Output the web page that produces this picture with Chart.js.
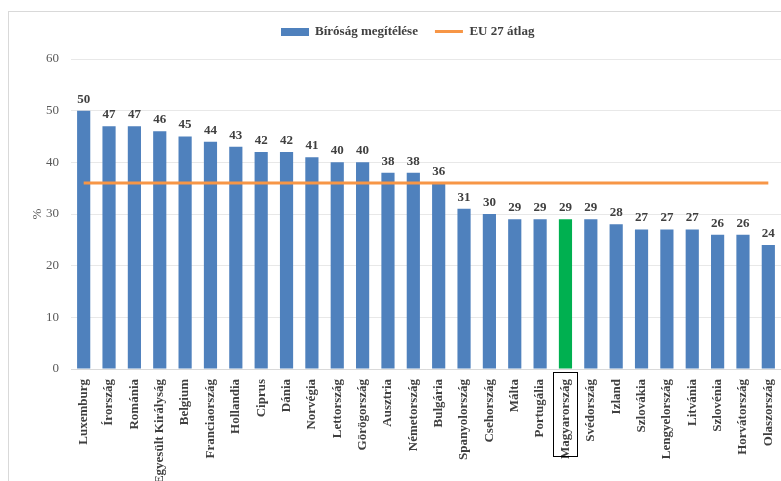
<!DOCTYPE html>
<html lang="hu">
<head>
    <meta charset="UTF-8">
    <title>Bíróság megítélése</title>
    <script src="https://cdn.jsdelivr.net/npm/chart.js"></script>
    <style>
        html, body { margin: 0; padding: 0; background: #fff; }
        .wrap { width: 781px; height: 481px; position: relative; }
    </style>
</head>
<body>
<div class="wrap">
    <canvas id="chart" width="781" height="481"></canvas>
</div>
<script>
// adatok
const orszagok = ['Luxemburg', 'Írország', 'Románia', 'Egyesült Királyság', 'Belgium', 'Franciaország',
    'Hollandia', 'Ciprus', 'Dánia', 'Norvégia', 'Lettország', 'Görögország', 'Ausztria', 'Németország',
    'Bulgária', 'Spanyolország', 'Csehország', 'Málta', 'Portugália', 'Magyarország', 'Svédország',
    'Izland', 'Szlovákia', 'Lengyelország', 'Litvánia', 'Szlovénia', 'Horvátország', 'Olaszország'];
const ertekek = [50, 47, 47, 46, 45, 44, 43, 42, 42, 41, 40, 40, 38, 38, 36, 31, 30, 29, 29, 29, 29, 28, 27, 27, 27, 26, 26, 24];
const euAtlag = 36;
const kiemelt = 'Magyarország';
const yTicks = [0, 10, 20, 30, 40, 50, 60];

const serif = "'Liberation Serif', 'DejaVu Serif', serif";
const kek = '#4f81bd';
const zold = '#00b050';
const narancs = '#f79646';

// jelmagyarázat ikon a sávokhoz
const boxIcon = document.createElement('canvas');
boxIcon.width = 28; boxIcon.height = 8;
const bctx = boxIcon.getContext('2d');
bctx.fillStyle = kek;
bctx.fillRect(0, 0, 28, 8);

// a jelmagyarázat alatt több hely kell, és kicsit jobbra van
const legendHely = {
    id: 'legendHely',
    beforeInit(chart) {
        const fit = chart.legend.fit;
        chart.legend.fit = function () {
            fit.bind(chart.legend)();
            this.height += 11;
        };
    },
    afterLayout(chart) {
        chart.legend.left += 34;
    }
};

// értékek a sávok fölött + keret a kiemelt ország körül
const cimkek = {
    id: 'cimkek',
    afterDatasetsDraw(chart) {
        const ctx = chart.ctx;
        const meta = chart.getDatasetMeta(0);
        ctx.save();
        ctx.font = 'bold 13px ' + serif;
        ctx.fillStyle = '#404040';
        ctx.textAlign = 'center';
        ctx.textBaseline = 'bottom';
        meta.data.forEach((bar, i) => {
            ctx.fillText(ertekek[i], bar.x, bar.y - 5);
        });
        ctx.restore();
    },
    afterDraw(chart) {
        const ctx = chart.ctx;
        const x = chart.scales.x;
        const i = orszagok.indexOf(kiemelt);
        const px = x.getPixelForValue(i);
        ctx.save();
        ctx.font = 'bold 13px ' + serif;
        const w = ctx.measureText(kiemelt).width;
        ctx.strokeStyle = '#000';
        ctx.lineWidth = 1;
        const top = x.top + 3;
        ctx.strokeRect(Math.round(px - 12) + 0.5, Math.round(top) + 0.5, 24, Math.round(w + 4));
        // külső keret
        ctx.strokeStyle = '#d9d9d9';
        ctx.strokeRect(8.5, 11.5, chart.width, chart.height);
        ctx.restore();
    }
};

new Chart(document.getElementById('chart').getContext('2d'), {
    data: {
        labels: orszagok,
        datasets: [
            {
                type: 'bar',
                label: 'Bíróság megítélése',
                data: ertekek,
                backgroundColor: orszagok.map(o => o === kiemelt ? zold : kek),
                barPercentage: 0.52,
                categoryPercentage: 1,
                pointStyle: boxIcon,
                order: 2
            },
            {
                type: 'line',
                label: 'EU 27 átlag',
                data: orszagok.map(() => euAtlag),
                borderColor: narancs,
                backgroundColor: narancs,
                borderWidth: 3,
                pointRadius: 0,
                pointStyle: 'line',
                order: 1
            }
        ]
    },
    options: {
        responsive: false,
        animation: false,
        layout: { padding: { left: 0, right: 0, top: 8, bottom: 0 } },
        plugins: {
            legend: {
                position: 'top',
                labels: {
                    usePointStyle: true,
                    pointStyleWidth: 28,
                    boxHeight: 8,
                    padding: 17,
                    color: '#404040',
                    sort: (a, b) => a.datasetIndex - b.datasetIndex,
                    font: { family: serif, size: 13, weight: 'bold' }
                }
            },
            tooltip: { enabled: false }
        },
        scales: {
            x: {
                afterFit(axis) { axis.height = 112; axis.paddingRight = 0; },
                grid: { display: false },
                border: { color: '#d9d9d9' },
                ticks: {
                    autoSkip: false,
                    maxRotation: 90,
                    minRotation: 90,
                    color: '#404040',
                    padding: 2,
                    font: { family: serif, size: 13, weight: 'bold' }
                }
            },
            y: {
                min: 0,
                max: 60,
                afterBuildTicks(axis) { axis.ticks = yTicks.map(v => ({ value: v })); },
                afterFit(axis) { axis.width = 71; },
                grid: { color: '#e8e8e8', drawTicks: false },
                border: { display: false },
                ticks: {
                    color: '#595959',
                    padding: 12,
                    font: { family: serif, size: 13 }
                },
                title: {
                    display: true,
                    text: '%',
                    color: '#595959',
                    padding: { top: 30, bottom: 0 },
                    font: { family: serif, size: 13 }
                }
            }
        }
    },
    plugins: [legendHely, cimkek]
});
</script>
</body>
</html>
